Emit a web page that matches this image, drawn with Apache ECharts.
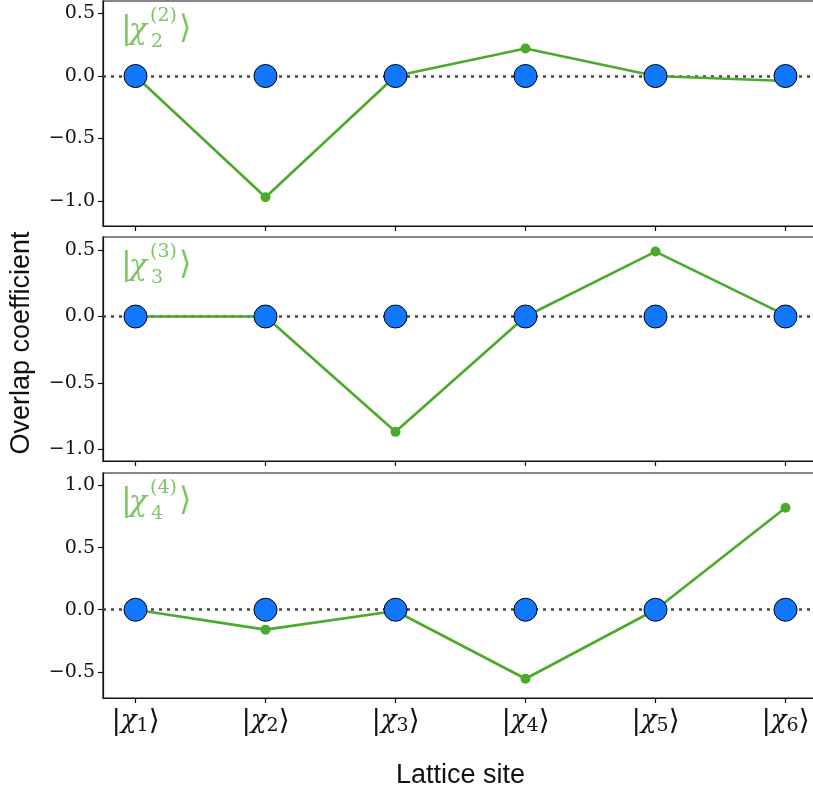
<!DOCTYPE html>
<html><head><meta charset="utf-8">
<script src="https://cdn.jsdelivr.net/npm/echarts@6/dist/echarts.min.js"></script>
<style>html,body{margin:0;padding:0;background:#fff}#c{width:813px;height:796px}</style>
</head><body><div id="c"></div>
<script>
// ---- data ----
const siteIndex = [0, 1, 2, 3, 4, 5];
const siteSubs = ['1', '2', '3', '4', '5', '6'];
const reference = [0, 0, 0, 0, 0, 0];
const chi2 = [0, -0.97, 0, 0.22, 0, -0.04];
const chi3 = [0, 0, -0.87, 0, 0.49, 0.01];
const chi4 = [0, -0.16, -0.01, -0.555, 0, 0.82];
const yTicks1 = [-1.0, -0.5, 0.0, 0.5];
const yTicks2 = [-1.0, -0.5, 0.0, 0.5];
const yTicks3 = [-0.5, 0.0, 0.5, 1.0];
const panelTags = ['2', '3', '4'];

// ---- layout / style ----
const panels = [
  {top: 1, bottom: 226, ymin: -1.2, ymax: 0.6, ticks: yTicks1, vals: chi2, tag: panelTags[0]},
  {top: 237, bottom: 461, ymin: -1.09, ymax: 0.6, ticks: yTicks2, vals: chi3, tag: panelTags[1]},
  {top: 473, bottom: 698, ymin: -0.71, ymax: 1.10, ticks: yTicks3, vals: chi4, tag: panelTags[2]}
];
const LEFT = 103, WIDTH = 715;
const GREEN = '#4aab2b', GREEN_TXT = '#7cc562', BLUE = '#1177ff';
const SERIF = '"DejaVu Serif", serif';
const SANS = '"Liberation Sans", Arial, sans-serif';
const fmtY = v => (v < 0 ? '\u2212' : '') + Math.abs(v).toFixed(1);

const chart = echarts.init(document.getElementById('c'), null, {renderer: 'canvas'});
const grid = [], xAxis = [], yAxis = [], series = [], graphic = [];

panels.forEach((p, i) => {
  grid.push({left: LEFT, width: WIDTH, top: p.top, height: p.bottom - p.top,
    outerBoundsMode: 'none', containLabel: false,
    show: true, borderColor: '#111', borderWidth: 1.2, backgroundColor: 'transparent'});
  const last = i === panels.length - 1;
  xAxis.push({
    type: 'value', gridIndex: i, min: -0.25, max: 5.25,
    axisLine: {show: true, onZero: false, lineStyle: {color: '#111', width: 1.2}},
    axisTick: {show: true, length: 5, lineStyle: {color: '#111', width: 1.2}, customValues: siteIndex},
    axisLabel: {show: last, customValues: siteIndex, margin: 9,
      formatter: v => '{b||}{c|\u03c7}{s|' + siteSubs[Math.round(v)] + '}{b|\u27e9}',
      rich: {
        b: {fontFamily: SERIF, fontSize: 28, color: '#111'},
        c: {fontFamily: SERIF, fontStyle: 'italic', fontSize: 26, color: '#111'},
        s: {fontFamily: SERIF, fontSize: 19, color: '#111', padding: [10, 0, 0, 0]}
      }},
    splitLine: {show: false},
    name: last ? 'Lattice site' : '', nameLocation: 'middle', nameGap: 64,
    nameTextStyle: {fontFamily: SANS, fontSize: 27, color: '#111'}
  });
  yAxis.push({
    type: 'value', gridIndex: i, min: p.ymin, max: p.ymax,
    axisLine: {show: true, onZero: false, lineStyle: {color: '#111', width: 1.2}},
    axisTick: {show: true, length: 5, lineStyle: {color: '#111', width: 1.2}, customValues: p.ticks},
    axisLabel: {customValues: p.ticks, formatter: fmtY, fontFamily: SERIF, fontSize: 19, color: '#111', margin: 8},
    splitLine: {show: false}
  });
  // zero reference dotted line
  series.push({
    type: 'line', xAxisIndex: i, yAxisIndex: i, data: [], z: 1, silent: true,
    markLine: {symbol: 'none', silent: true, z: 1, label: {show: false}, animation: false,
      lineStyle: {color: '#444', type: [3, 5], width: 2.6},
      data: [{yAxis: 0}]}
  });
  series.push({
    type: 'line', xAxisIndex: i, yAxisIndex: i, z: 2,
    data: p.vals.map((v, k) => [siteIndex[k], v]),
    symbol: 'circle', symbolSize: 10, showSymbol: true,
    lineStyle: {color: GREEN, width: 2.6}, itemStyle: {color: GREEN, opacity: 1},
    animation: false
  });
  series.push({
    type: 'scatter', xAxisIndex: i, yAxisIndex: i, z: 3,
    data: reference.map((v, k) => [siteIndex[k], v]),
    symbol: 'circle', symbolSize: 23,
    itemStyle: {color: BLUE, borderColor: '#000', borderWidth: 1, opacity: 1},
    animation: false
  });
  // panel tag |chi_k^(k)>
  const cy = p.top + 31;
  graphic.push(
    {type: 'text', left: 121, top: cy - 18, style: {text: '|', font: '32px ' + SERIF, fill: GREEN_TXT}},
    {type: 'text', left: 129, top: cy - 16, style: {text: '\u03c7', font: 'italic 30px ' + SERIF, fill: GREEN_TXT}},
    {type: 'text', left: 150, top: cy - 25, style: {text: '(' + p.tag + ')', font: '19px ' + SERIF, fill: GREEN_TXT}},
    {type: 'text', left: 151, top: cy + 1, style: {text: p.tag, font: '19px ' + SERIF, fill: GREEN_TXT}},
    {type: 'text', left: 179, top: cy - 18, style: {text: '\u27e9', font: '32px ' + SERIF, fill: GREEN_TXT}}
  );
});

graphic.push({type: 'text', x: 22, y: 343, rotation: Math.PI / 2,
  style: {text: 'Overlap coefficient', font: '27px ' + SANS, fill: '#111', align: 'center', verticalAlign: 'middle'}});

chart.setOption({animation: false, backgroundColor: '#fff', grid, xAxis, yAxis, series, graphic});
</script></body></html>
